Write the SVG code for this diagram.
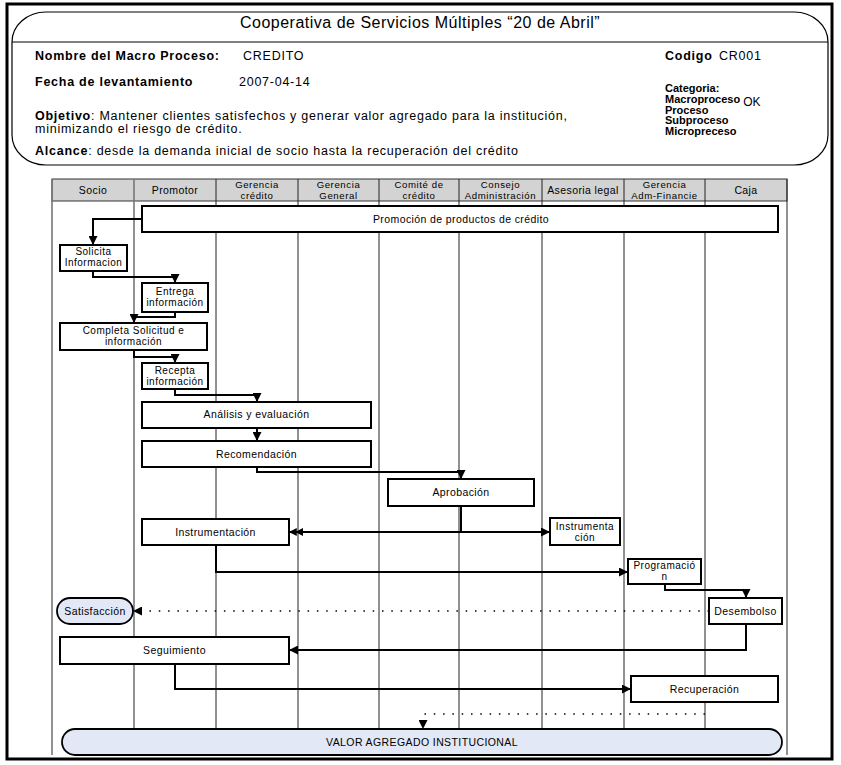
<svg xmlns="http://www.w3.org/2000/svg" width="841" height="765" viewBox="0 0 841 765">
<defs>
<style>
text{font-family:"Liberation Sans",Arial,sans-serif;fill:#000}
.h{font-size:12.5px;letter-spacing:0.75px}
.b{font-weight:bold}
.k{font-size:11px;font-weight:bold}
.t{font-size:16px;text-anchor:middle;letter-spacing:0.5px}
.lh{font-size:10.5px;text-anchor:middle;letter-spacing:0.4px}
.lh2{font-size:9.6px;text-anchor:middle;letter-spacing:0.6px}
.n{font-size:10.5px;text-anchor:middle;letter-spacing:0.4px}
.n2{font-size:10px;text-anchor:middle;letter-spacing:0.5px}
.box{fill:#fff;stroke:#000;stroke-width:2}
.term{fill:#e2e8f5;stroke:#000;stroke-width:1.8}
.lane{stroke:#222;stroke-width:1;fill:none}
.lane2{stroke:#777;stroke-width:1.6;fill:none}
.c{fill:none;stroke:#000;stroke-width:2}
.d{fill:none;stroke:#000;stroke-width:1.6;stroke-dasharray:1.5 7.8}
</style>
<marker id="a" viewBox="0 0 10 10" refX="10" refY="5" markerWidth="9" markerHeight="9" markerUnits="userSpaceOnUse" orient="auto">
<path d="M0,0 L10,5 L0,10 z" fill="#000"/>
</marker>
<marker id="a2" viewBox="0 0 18 10" refX="18" refY="5" markerWidth="14" markerHeight="8" markerUnits="userSpaceOnUse" orient="auto">
<path d="M0,0 L10,5 L0,10 z M8,0 L18,5 L8,10 z" fill="#000"/>
</marker>
</defs>

<!-- outer frame -->
<rect x="7" y="4" width="825" height="755" fill="#fff" stroke="#000" stroke-width="3"/>

<!-- header box -->
<g id="header">
<rect x="12" y="12" width="816" height="153" rx="34" ry="30" fill="#fff" stroke="#000" stroke-width="1.2"/>
<line x1="12" y1="42" x2="828" y2="42" stroke="#000" stroke-width="1.2"/>
<text class="t" x="420" y="28">Cooperativa de Servicios Múltiples “20 de Abril”</text>
<text class="h b" x="35" y="60">Nombre del Macro Proceso:</text>
<text class="h" x="243" y="60">CREDITO</text>
<text class="h b" x="665" y="60">Codigo</text>
<text class="h" x="719" y="60">CR001</text>
<text class="h b" x="35" y="86">Fecha de levantamiento</text>
<text class="h" x="239" y="86">2007-04-14</text>
<text class="k" x="665" y="92">Categoria:</text>
<text class="k" x="665" y="103">Macroproceso<tspan font-weight="normal" font-size="12" dx="3" dy="3">OK</tspan></text>
<text class="k" x="665" y="113.5">Proceso</text>
<text class="k" x="665" y="124">Subproceso</text>
<text class="k" x="665" y="134.5">Micropreceso</text>
<text class="h" x="35" y="120"><tspan class="b">Objetivo</tspan>:  Mantener clientes satisfechos y generar valor agregado para la institución,</text>
<text class="h" x="35" y="133">minimizando el riesgo de crédito.</text>
<text class="h" x="35" y="155"><tspan class="b">Alcance</tspan>: desde la demanda inicial de socio hasta la recuperación del crédito</text>
</g>

<!-- swimlanes -->
<g id="lanes">
<rect x="52" y="179" width="735" height="22" fill="#d3d3d3" stroke="#333" stroke-width="1"/>
<path class="lane" d="M216,179V745 M298,179V745 M379,179V745 M459,179V745 M542,179V745 M624,179V745 M705,179V745"/>
<path class="lane2" d="M52,179V755 M134,179V745"/>
<path class="lane" d="M787,179V755"/>
<text class="lh" x="93" y="193.5">Socio</text>
<text class="lh" x="175" y="193.5">Promotor</text>
<text class="lh2" x="257" y="187.5">Gerencia</text>
<text class="lh2" x="257" y="198.5">crédito</text>
<text class="lh2" x="338.5" y="187.5">Gerencia</text>
<text class="lh2" x="338.5" y="198.5">General</text>
<text class="lh2" x="419" y="187.5">Comité de</text>
<text class="lh2" x="419" y="198.5">crédito</text>
<text class="lh2" x="500.5" y="187.5">Consejo</text>
<text class="lh2" x="500.5" y="198.5">Administración</text>
<text class="lh" x="583" y="193.5">Asesoria legal</text>
<text class="lh2" x="664.5" y="187.5">Gerencia</text>
<text class="lh2" x="664.5" y="198.5">Adm-Financie</text>
<text class="lh" x="746" y="193.5">Caja</text>
</g>

<!-- connectors -->
<g id="connectors">
<path class="c" d="M142,219H93V245" marker-end="url(#a)"/>
<path class="c" d="M93,271V277H175V283" marker-end="url(#a)"/>
<path class="c" d="M175,312V317H134V323" marker-end="url(#a)"/>
<path class="c" d="M134,350V357H175V363" marker-end="url(#a)"/>
<path class="c" d="M175,389V395H257V402" marker-end="url(#a)"/>
<path class="c" d="M257,428V441" marker-end="url(#a)"/>
<path class="c" d="M257,467V472H461V479" marker-end="url(#a)"/>
<path class="c" d="M461,506V532H289" marker-end="url(#a2)"/>
<path class="c" d="M461,532H550" marker-end="url(#a)"/>
<path class="c" d="M216,545V572H628" marker-end="url(#a)"/>
<path class="c" d="M665,584V590H746V598" marker-end="url(#a)"/>
<path class="d" d="M709,611H133" marker-end="url(#a)"/>
<path class="c" d="M746,624V650H289" marker-end="url(#a)"/>
<path class="c" d="M175,664V689H631" marker-end="url(#a)"/>
<path class="d" d="M705,714H423V729" marker-end="url(#a)"/>
</g>

<!-- nodes -->
<g id="promocion"><rect class="box" x="142" y="206" width="636" height="26"/><text class="n" x="461" y="222.5">Promoción de productos de crédito</text></g>
<g id="solicita"><rect class="box" x="60" y="245" width="67" height="26"/><text class="n2" x="93.5" y="255">Solicita</text><text class="n2" x="93.5" y="266">Informacion</text></g>
<g id="entrega"><rect class="box" x="142" y="283" width="66" height="29"/><text class="n2" x="175" y="295">Entrega</text><text class="n2" x="175" y="306">información</text></g>
<g id="completa"><rect class="box" x="60" y="323" width="147" height="27"/><text class="n2" x="133.5" y="334">Completa Solicitud e</text><text class="n2" x="133.5" y="345">información</text></g>
<g id="recepta"><rect class="box" x="142" y="363" width="66" height="26"/><text class="n2" x="175" y="373.5">Recepta</text><text class="n2" x="175" y="384.5">información</text></g>
<g id="analisis"><rect class="box" x="142" y="402" width="229" height="26"/><text class="n" x="256.5" y="417.5">Análisis y evaluación</text></g>
<g id="recomendacion"><rect class="box" x="142" y="441" width="229" height="26"/><text class="n" x="256.5" y="457.5">Recomendación</text></g>
<g id="aprobacion"><rect class="box" x="388" y="479" width="146" height="27"/><text class="n" x="461" y="496">Aprobación</text></g>
<g id="instrumentacion"><rect class="box" x="142" y="519" width="147" height="26"/><text class="n" x="215.5" y="535.5">Instrumentación</text></g>
<g id="instrumentacion2"><rect class="box" x="550" y="518" width="70" height="27"/><text class="n2" x="585" y="529.5">Instrumenta</text><text class="n2" x="585" y="540.5">ción</text></g>
<g id="programacion"><rect class="box" x="628" y="559" width="73" height="25"/><text class="n2" x="664.5" y="569">Programació</text><text class="n2" x="664.5" y="580">n</text></g>
<g id="desembolso"><rect class="box" x="709" y="598" width="73" height="26"/><text class="n" x="745.5" y="614.5">Desembolso</text></g>
<g id="satisfaccion"><rect class="term" x="57" y="598" width="76" height="26" rx="13" ry="13"/><text class="n" x="95" y="614.5">Satisfacción</text></g>
<g id="seguimiento"><rect class="box" x="60" y="637" width="229" height="27"/><text class="n" x="174.5" y="654">Seguimiento</text></g>
<g id="recuperacion"><rect class="box" x="631" y="676" width="147" height="26"/><text class="n" x="704.5" y="692.5">Recuperación</text></g>
<g id="valor"><rect class="term" x="62" y="729" width="720" height="26" rx="13" ry="13"/><text class="n" x="422" y="745.5">VALOR AGREGADO INSTITUCIONAL</text></g>
</svg>
